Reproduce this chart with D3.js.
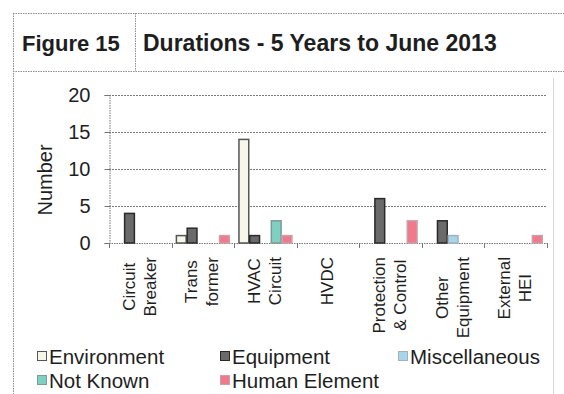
<!DOCTYPE html>
<html>
<head>
<meta charset="utf-8">
<script src="https://cdn.jsdelivr.net/npm/d3@7"></script>
<style>
  html, body { margin: 0; padding: 0; background: #fff; }
  svg { display: block; font-family: Arial, "Liberation Sans", sans-serif; }
</style>
</head>
<body>
<svg id="chart" width="564" height="394"></svg>
<script>
// Categories (two-line labels) and series
const categories = ["Circuit Breaker", "Transformer", "HVAC Circuit", "HVDC",
                    "Protection & Control", "Other Equipment", "External HEI"];
const categoryLines = [["Circuit", "Breaker"], ["Trans", "former"], ["HVAC", "Circuit"], ["HVDC"],
                       ["Protection", "& Control"], ["Other", "Equipment"], ["External", "HEI"]];
const seriesNames = ["Environment", "Equipment", "Miscellaneous", "Not Known", "Human Element"];

// Counts per category, one array per series
const environment   = [0, 1, 14, 0, 0, 0, 0];
const equipment     = [4, 2, 1, 0, 6, 3, 0];
const miscellaneous = [0, 0, 0, 0, 0, 1, 0];
const notKnown      = [0, 0, 3, 0, 0, 0, 0];
const humanElement  = [0, 1, 1, 0, 3, 0, 1];

const yTicks = [0, 5, 10, 15, 20];

const seriesValues = [environment, equipment, miscellaneous, notKnown, humanElement];
const fills   = ["#f6f6ea", "#6a6a6a", "#a9d5ec", "#7fcfc3", "#f2788c"];
const strokes = ["#555555", "#2a2a2a", "#9fb3bf", "#7c9a96", "#c9a0a8"];

const svg = d3.select("#chart");
const ink = "#1e1e1e";
const frame = "#8c8c8c";

// Page frame and title box
const fr = svg.append("g").attr("fill", "none").attr("stroke", frame)
  .attr("stroke-width", 1).attr("stroke-dasharray", "1.5,1");
fr.append("line").attr("x1", 13).attr("x2", 564).attr("y1", 13.5).attr("y2", 13.5);
fr.append("line").attr("x1", 13).attr("x2", 564).attr("y1", 71.5).attr("y2", 71.5);
fr.append("line").attr("x1", 13.5).attr("x2", 13.5).attr("y1", 13).attr("y2", 394);
fr.append("line").attr("x1", 135.5).attr("x2", 135.5).attr("y1", 13).attr("y2", 71);
svg.append("line").attr("x1", 553.5).attr("x2", 553.5).attr("y1", 78).attr("y2", 394)
  .attr("stroke", "#d8d8d8").attr("stroke-width", 1);

svg.append("text").attr("x", 22).attr("y", 51).attr("font-size", 22)
  .attr("font-weight", "bold").attr("fill", ink).text("Figure 15");
svg.append("text").attr("x", 143).attr("y", 51).attr("font-size", 23)
  .attr("font-weight", "bold").attr("fill", ink).text("Durations - 5 Years to June 2013");

// Plot scales
const plotLeft = 109, plotRight = 547, plotTop = 95, plotBottom = 243;
const x0 = d3.scaleBand().domain(categories).range([plotLeft, plotRight]).paddingInner(0).paddingOuter(0);
const x1 = d3.scaleBand().domain(seriesNames).range([0, x0.bandwidth()])
  .paddingInner(0).paddingOuter(0.4);
const y = d3.scaleLinear().domain([0, 20]).range([plotBottom, plotTop]);

// Gridlines
svg.append("g").selectAll("line").data(yTicks.filter(t => t > 0)).join("line")
  .attr("x1", plotLeft).attr("x2", plotRight)
  .attr("y1", d => Math.round(y(d)) + 0.5).attr("y2", d => Math.round(y(d)) + 0.5)
  .attr("stroke", "#7a7a7a").attr("stroke-width", 1).attr("stroke-dasharray", "2,1");

// Y axis
const yAxis = svg.append("g").attr("transform", `translate(${plotLeft + 0.5},0)`)
  .call(d3.axisLeft(y).tickValues(yTicks).tickSize(5).tickPadding(14));
yAxis.select(".domain").attr("stroke", "#777").attr("stroke-dasharray", "1.5,1");
yAxis.selectAll(".tick line").attr("stroke", "#777");
yAxis.selectAll(".tick text").attr("font-size", 20).attr("fill", ink)
  .attr("font-family", "Arial, 'Liberation Sans', sans-serif");

svg.append("text").attr("transform", "translate(52,180) rotate(-90)")
  .attr("text-anchor", "middle").attr("font-size", 20).attr("fill", ink).text("Number");

// X axis line with category boundary ticks
const xg = svg.append("g");
xg.append("line").attr("x1", plotLeft).attr("x2", plotRight)
  .attr("y1", plotBottom + 0.5).attr("y2", plotBottom + 0.5)
  .attr("stroke", "#777").attr("stroke-dasharray", "1.5,1");
const bounds = categories.map(c => x0(c)).concat([plotRight]);
xg.selectAll("line.tk").data(bounds).join("line").attr("class", "tk")
  .attr("x1", d => Math.round(d) + 0.5).attr("x2", d => Math.round(d) + 0.5)
  .attr("y1", plotBottom).attr("y2", plotBottom + 5).attr("stroke", "#777");

// Bars
const rows = [];
categories.forEach((c, i) => {
  seriesNames.forEach((s, j) => {
    const v = seriesValues[j][i];
    if (v > 0) rows.push({ c, s, j, v });
  });
});
svg.append("g").selectAll("rect").data(rows).join("rect")
  .attr("x", d => x0(d.c) + x1(d.s) + 0.5)
  .attr("y", d => y(d.v))
  .attr("width", x1.bandwidth() - 1)
  .attr("height", d => y(0) - y(d.v))
  .attr("fill", d => fills[d.j])
  .attr("stroke", d => strokes[d.j])
  .attr("stroke-width", 1.5);

// Category labels: rotated, lines centred on each other, block hung below the axis
const labels = svg.append("g");
const labelTop = 257;
categories.forEach((c, i) => {
  const lines = categoryLines[i];
  const cx = x0(c) + x0.bandwidth() / 2 - 1;
  const gap = 21;
  const nodes = lines.map((t, k) => {
    const lx = cx + (k - (lines.length - 1) / 2) * gap;
    return labels.append("text")
      .attr("text-anchor", "middle").attr("dy", "0.36em")
      .attr("font-size", 17).attr("fill", ink).text(t)
      .datum(lx);
  });
  const maxLen = d3.max(nodes, n => n.node().getComputedTextLength());
  const cy = labelTop + maxLen / 2;
  nodes.forEach(n => n.attr("transform", `translate(${n.datum()},${cy}) rotate(-90)`));
});

// Legend
const legendPos = [
  { x: 37, y: 357 }, { x: 220, y: 357 }, { x: 398, y: 357 },
  { x: 37, y: 381 }, { x: 220, y: 381 }
];
const lg = svg.append("g");
seriesNames.forEach((s, j) => {
  const p = legendPos[j];
  lg.append("rect").attr("x", p.x + 0.5).attr("y", p.y - 5.5).attr("width", 9).attr("height", 9)
    .attr("fill", fills[j]).attr("stroke", strokes[j]).attr("stroke-width", 1);
  lg.append("text").attr("x", p.x + 12).attr("y", p.y).attr("dy", "0.35em")
    .attr("font-size", 20.5).attr("fill", ink).text(s);
});
</script>
</body>
</html>
